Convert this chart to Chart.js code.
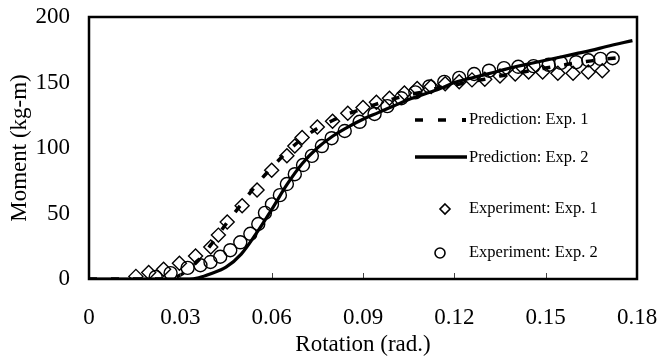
<!DOCTYPE html>
<html>
<head>
<meta charset="utf-8">
<script src="https://cdn.jsdelivr.net/npm/chart.js@4.4.1/dist/chart.umd.min.js"></script>
<style>
html,body{margin:0;padding:0;background:#fff;}
canvas{display:block;}
</style>
</head>
<body>
<canvas id="c" width="660" height="359"></canvas>
<script>
// ---- data ----
const seriesNames = ['Prediction: Exp. 1', 'Prediction: Exp. 2', 'Experiment: Exp. 1', 'Experiment: Exp. 2'];
const xTickValues = [0, 0.03, 0.06, 0.09, 0.12, 0.15, 0.18];
const xTickLabels = ['0', '0.03', '0.06', '0.09', '0.12', '0.15', '0.18'];
const yTickValues = [0, 50, 100, 150, 200];
const yTickLabels = ['0', '50', '100', '150', '200'];
const xTitle = 'Rotation (rad.)';
const yTitle = 'Moment (kg-m)';

const pred1X = [0,0.026,0.03,0.035,0.04,0.045,0.05,0.055,0.06,0.065,0.07,0.075,0.08,0.085,0.09,0.095,0.10,0.105,0.11,0.115,0.12,0.125,0.13,0.135,0.14,0.145,0.15,0.155,0.16,0.165,0.17,0.176];
const pred1Y = [0,0,3,12,26,42,57,72,85,97,107,115,121,126,130,134,137.5,140.5,143,146,148,150.5,152.5,155,157,159,161,163,165,166.5,168,169.5];

const pred2X = [0,0.033,0.036,0.04,0.045,0.05,0.055,0.06,0.065,0.07,0.075,0.08,0.085,0.09,0.095,0.10,0.105,0.11,0.115,0.12,0.125,0.13,0.135,0.14,0.145,0.15,0.155,0.16,0.165,0.17,0.1785];
const pred2Y = [0,0,1,4,9,19,35,53,72,88,100,109,116,122,127,132,137,141,145,150,153,156,159,162,164.5,167,169.5,172,174.5,177.5,182];

const exp1X = [0.0154,0.0196,0.0245,0.0297,0.035,0.040,0.0425,0.0454,0.0503,0.0552,0.060,0.065,0.0676,0.070,0.075,0.080,0.085,0.090,0.0944,0.0987,0.1036,0.1078,0.1124,0.117,0.1216,0.1258,0.130,0.135,0.140,0.1444,0.149,0.154,0.159,0.164,0.1686];
const exp1Y = [2,5,7.5,12,17.5,24.5,33.5,43.5,56,68,83,94,101.5,108,116,120.5,126.5,131,135,138,142,145.5,147,149,150.5,152,152.5,155,156.5,158,158,157,157,158,159];

const exp2X = [0.0219,0.0268,0.0324,0.0366,0.0399,0.0431,0.0464,0.0497,0.053,0.0556,0.0578,0.0601,0.0627,0.065,0.0676,0.0703,0.0732,0.0765,0.0797,0.084,0.0889,0.0938,0.098,0.1026,0.1072,0.1118,0.1167,0.1216,0.1265,0.1314,0.1363,0.141,0.146,0.151,0.155,0.16,0.164,0.168,0.172];
const exp2Y = [1.5,4.5,8.5,10.5,13,17,22,28,34.5,42,50.5,57,64,72.5,80,87,94,101.5,107.5,113,120,126,132,138,142.5,147,150.5,153.5,156.5,159,161,162,162.5,163.5,165,165.5,167,168,168.5];

const toPts = (xs, ys) => xs.map((x, i) => ({x: x, y: ys[i]}));

// ---- plugins ----
const frameAndLegend = {
  id: 'frameAndLegend',
  afterDatasetsDraw(chart) {
    const ctx = chart.ctx;
    const a = chart.chartArea;
    const xs = chart.scales.x;
    ctx.save();
    // inward tick marks on the x axis
    ctx.strokeStyle = '#444';
    ctx.lineWidth = 1;
    ctx.beginPath();
    xTickValues.forEach(v => {
      const px = Math.round(xs.getPixelForValue(v)) + 0.5;
      ctx.moveTo(px, a.bottom);
      ctx.lineTo(px, a.bottom - 6);
    });
    ctx.stroke();
    // frame
    ctx.strokeStyle = '#000';
    ctx.lineWidth = 2.5;
    ctx.strokeRect(a.left, a.top, a.right - a.left, a.bottom - a.top);
    ctx.restore();
  },
  afterDraw(chart) {
    const ctx = chart.ctx;
    ctx.save();
    ctx.fillStyle = '#000';
    ctx.strokeStyle = '#000';
    ctx.font = '16.5px "Liberation Serif", "Times New Roman", serif';
    ctx.textBaseline = 'middle';
    ctx.textAlign = 'left';
    const tx = 469;
    // row 1: dashed
    ctx.lineWidth = 3.5;
    ctx.beginPath();
    ctx.moveTo(415, 120); ctx.lineTo(423, 120);
    ctx.moveTo(438, 120); ctx.lineTo(446, 120);
    ctx.stroke();
    ctx.fillRect(462, 118, 4, 4);
    ctx.fillText(seriesNames[0], tx, 120);
    // row 2: solid
    ctx.beginPath();
    ctx.moveTo(415, 157); ctx.lineTo(467, 157);
    ctx.stroke();
    ctx.fillText(seriesNames[1], tx, 158);
    // row 3: diamond
    ctx.lineWidth = 1.6;
    ctx.beginPath();
    ctx.moveTo(445, 204); ctx.lineTo(450, 209); ctx.lineTo(445, 214); ctx.lineTo(440, 209); ctx.closePath();
    ctx.stroke();
    ctx.fillText(seriesNames[2], tx, 209);
    // row 4: circle
    ctx.beginPath();
    ctx.arc(440, 253, 5, 0, Math.PI * 2);
    ctx.stroke();
    ctx.fillText(seriesNames[3], tx, 253);
    ctx.restore();
  }
};

const serif = '"Liberation Serif", "Times New Roman", serif';

new Chart(document.getElementById('c'), {
  type: 'scatter',
  data: {
    datasets: [
      {
        label: seriesNames[1],
        data: toPts(pred2X, pred2Y),
        showLine: true,
        borderColor: '#000',
        borderWidth: 3.2,
        pointRadius: 0,
        cubicInterpolationMode: 'monotone',
        order: 2
      },
      {
        label: seriesNames[0],
        data: toPts(pred1X, pred1Y),
        showLine: true,
        borderColor: '#000',
        borderWidth: 3.5,
        borderDash: [8, 14],
        pointRadius: 0,
        cubicInterpolationMode: 'monotone',
        order: 1
      },
      {
        label: seriesNames[2],
        data: toPts(exp1X, exp1Y),
        showLine: false,
        pointStyle: 'rectRot',
        pointRadius: 7,
        pointBorderWidth: 1.4,
        borderColor: '#000',
        backgroundColor: 'rgba(0,0,0,0)',
        order: 0
      },
      {
        label: seriesNames[3],
        data: toPts(exp2X, exp2Y),
        showLine: false,
        pointStyle: 'circle',
        pointRadius: 6.5,
        pointBorderWidth: 1.4,
        borderColor: '#000',
        backgroundColor: 'rgba(0,0,0,0)',
        order: 0
      }
    ]
  },
  options: {
    responsive: false,
    animation: false,
    devicePixelRatio: 1,
    layout: { padding: { left: 0, right: 23, top: 17, bottom: 0 } },
    plugins: {
      legend: { display: false },
      tooltip: { enabled: false }
    },
    scales: {
      x: {
        type: 'linear',
        min: 0, max: 0.18,
        afterBuildTicks: (s) => { s.ticks = xTickValues.map(v => ({ value: v })); },
        afterFit: (s) => { s.height = 80; },
        ticks: {
          padding: 0,
          color: '#000',
          font: { family: serif, size: 23 },
          maxRotation: 0,
          callback: (v, i) => xTickLabels[i]
        },
        grid: { display: false, drawTicks: true, tickLength: 25 },
        border: { display: false },
        title: {
          display: true,
          text: xTitle,
          color: '#000',
          font: { family: serif, size: 23 },
          padding: { top: 0, bottom: 0 }
        }
      },
      y: {
        type: 'linear',
        min: 0, max: 200,
        afterBuildTicks: (s) => { s.ticks = yTickValues.map(v => ({ value: v })); },
        afterFit: (s) => { s.width = 89; },
        ticks: {
          padding: 0,
          color: '#000',
          font: { family: serif, size: 23 },
          callback: (v, i) => yTickLabels[i]
        },
        grid: { display: false, drawTicks: true, tickLength: 19 },
        border: { display: false },
        title: {
          display: true,
          text: yTitle,
          color: '#000',
          font: { family: serif, size: 23 },
          padding: { top: 6, bottom: 0 }
        }
      }
    }
  },
  plugins: [frameAndLegend]
});
</script>
</body>
</html>
